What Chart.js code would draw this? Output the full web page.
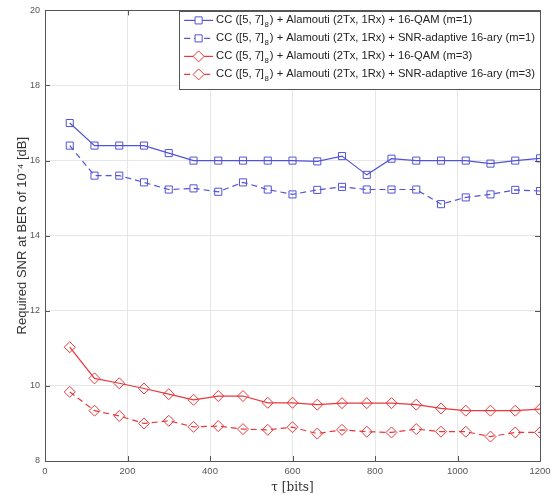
<!DOCTYPE html>
<html><head><meta charset="utf-8">
<script src="https://cdn.jsdelivr.net/npm/chart.js@4.4.0/dist/chart.umd.min.js"></script>
<style>html,body{margin:0;padding:0;background:#fff}#wrap{width:558px;height:495px}</style>
</head><body><div id="wrap"><canvas id="c" width="558" height="495"></canvas></div>
<script>
const tau = [60,120,180,240,300,360,420,480,540,600,660,720,780,840,900,960,1020,1080,1140,1200];
const qamM1 = [17.0,16.4,16.4,16.4,16.2,16.0,16.0,16.0,16.0,16.0,15.98,16.12,15.62,16.05,16.0,16.0,16.0,15.92,16.0,16.06];
const adaptM1 = [16.4,15.6,15.6,15.42,15.23,15.26,15.17,15.42,15.23,15.1,15.22,15.3,15.23,15.23,15.23,14.84,15.02,15.1,15.22,15.19];
const qamM3 = [11.03,10.2,10.07,9.93,9.78,9.63,9.73,9.73,9.55,9.55,9.5,9.54,9.54,9.54,9.5,9.4,9.34,9.34,9.34,9.38];
const adaptM3 = [9.84,9.34,9.2,9.0,9.07,8.91,8.93,8.85,8.83,8.9,8.73,8.83,8.78,8.76,8.85,8.78,8.78,8.65,8.76,8.76];
const labelTail = [
  ") + Alamouti (2Tx, 1Rx) + 16-QAM (m=1)",
  ") + Alamouti (2Tx, 1Rx) + SNR-adaptive 16-ary (m=1)",
  ") + Alamouti (2Tx, 1Rx) + 16-QAM (m=3)",
  ") + Alamouti (2Tx, 1Rx) + SNR-adaptive 16-ary (m=3)"
];
const xTicks = [0,200,400,600,800,1000,1200];
const yTicks = [8,10,12,14,16,18,20];

const BLUE = '#5353d9', RED = '#e8383c';
function pts(v){ return tau.map((t,i)=>({x:t,y:v[i]})); }
function ds(label, v, color, dash, style){
  return {label, data:pts(v), borderColor:color, backgroundColor:'rgba(0,0,0,0)',
    borderWidth:1.2, borderDash:dash, pointStyle:style, pointRadius: style==='rect'?5:5.5,
    pointBorderColor:color, pointBorderWidth:1, pointBackgroundColor:'rgba(0,0,0,0)', tension:0};
}
const datasets = [
  ds('CC ([5, 7]₈' + labelTail[0], qamM1, BLUE, [], 'rect'),
  ds('CC ([5, 7]₈' + labelTail[1], adaptM1, BLUE, [6,4], 'rect'),
  ds('CC ([5, 7]₈' + labelTail[2], qamM3, RED, [], 'rectRot'),
  ds('CC ([5, 7]₈' + labelTail[3], adaptM3, RED, [6,4], 'rectRot')
];

const boxPlugin = {
  id:'box',
  afterDraw(chart){
    const {ctx, chartArea:a, scales} = chart;
    ctx.save();
    ctx.strokeStyle = '#555'; ctx.lineWidth = 1;
    ctx.strokeRect(Math.round(a.left)+0.5, Math.round(a.top)+0.5, Math.round(a.right-a.left), Math.round(a.bottom-a.top));
    ctx.beginPath();
    const L=5;
    xTicks.forEach(t=>{ const x=Math.round(scales.x.getPixelForValue(t))+0.5;
      ctx.moveTo(x,a.bottom); ctx.lineTo(x,a.bottom-L); ctx.moveTo(x,a.top); ctx.lineTo(x,a.top+L); });
    yTicks.forEach(t=>{ const y=Math.round(scales.y.getPixelForValue(t))+0.5;
      ctx.moveTo(a.left,y); ctx.lineTo(a.left+L,y); ctx.moveTo(a.right,y); ctx.lineTo(a.right-L,y); });
    ctx.stroke();
    // legend
    const fs = 11.2;
    const font = fs + 'px "Liberation Sans", Arial, sans-serif';
    const subFont = (fs*0.7) + 'px "Liberation Sans", Arial, sans-serif';
    ctx.font = font;
    const head = 'CC ([5, 7]';
    const wHead = ctx.measureText(head).width;
    ctx.font = subFont; const wSub = ctx.measureText('8').width + 1.5;
    ctx.font = font;
    let maxW = 0;
    labelTail.forEach(t=>{ maxW = Math.max(maxW, wHead + wSub + ctx.measureText(t).width); });
    const right = a.right, top = a.top + 1;
    const sample = 29, gap = 3, padL = 5, padR = 5;
    const w = padL + sample + gap + maxW + padR;
    const left = right - w;
    const rowH = 18, h = 78;
    ctx.fillStyle = '#fff'; ctx.fillRect(left, top, w, h);
    ctx.strokeStyle = '#555'; ctx.lineWidth = 1;
    ctx.strokeRect(Math.round(left)+0.5, Math.round(top)+0.5, Math.round(w), Math.round(h));
    chart.data.datasets.forEach((d,i)=>{
      const cy = top + 9 + rowH*i;
      const x0 = left + padL;
      ctx.strokeStyle = d.borderColor; ctx.lineWidth = 1.2;
      ctx.setLineDash(d.borderDash);
      ctx.beginPath(); ctx.moveTo(x0, cy); ctx.lineTo(x0+sample, cy); ctx.stroke();
      ctx.setLineDash([]);
      ctx.lineWidth = 1;
      ctx.fillStyle = '#fff';
      Chart.helpers.drawPoint(ctx, {pointStyle:d.pointStyle, radius:d.pointRadius, borderWidth:1}, x0+sample/2, cy);
      let tx = x0 + sample + gap;
      ctx.fillStyle = '#222'; ctx.textBaseline = 'middle'; ctx.textAlign='left';
      ctx.font = font; ctx.fillText(head, tx, cy); tx += wHead;
      ctx.font = subFont; ctx.fillText('8', tx+0.5, cy+4.5); tx += wSub;
      ctx.font = font; ctx.fillText(labelTail[i], tx, cy);
    });
    ctx.restore();
  }
};

new Chart(document.getElementById('c'), {
  type:'line',
  data:{datasets},
  options:{
    responsive:false, animation:false, devicePixelRatio:1,
    layout:{padding:{top:8,right:18,left:0,bottom:0}},
    plugins:{legend:{display:false}, tooltip:{enabled:false}},
    scales:{
      x:{type:'linear', min:0, max:1200,
        afterBuildTicks(s){ s.ticks = xTicks.map(v=>({value:v})); },
        afterFit(s){ s.height = 34; },
        grid:{color:'#e6e6e6', drawTicks:false}, border:{display:false},
        ticks:{padding:5, font:{size:9.5, family:'"Liberation Sans", Arial'}, color:'#555', maxRotation:0, callback:v=>String(v)},
        title:{display:true, text:'τ [bits]', padding:{top:0,bottom:0}, font:{size:12, family:'"DejaVu Serif", "Liberation Serif", serif'}, color:'#333'}
      },
      y:{min:8, max:20,
        afterBuildTicks(s){ s.ticks = yTicks.map(v=>({value:v})); },
        afterFit(s){ s.width = 45; },
        grid:{color:'#e6e6e6', drawTicks:false}, border:{display:false},
        ticks:{padding:5, font:{size:9, family:'"Liberation Sans", Arial'}, color:'#555', callback:v=>String(v)},
        title:{display:true, text:'Required SNR at BER of 10⁻⁴ [dB]', padding:{top:15,bottom:0}, font:{size:13, family:'"Liberation Sans", Arial'}, color:'#333'}
      }
    }
  },
  plugins:[boxPlugin]
});
</script></body></html>
